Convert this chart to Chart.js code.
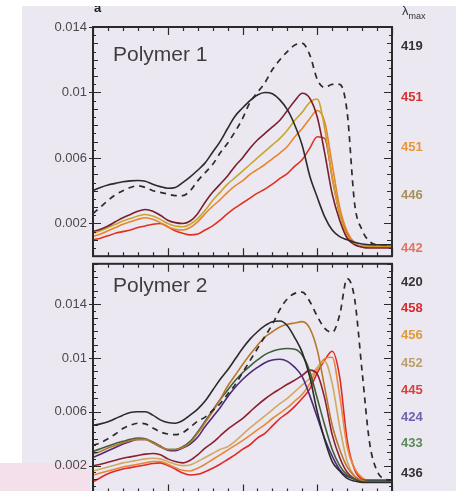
<!DOCTYPE html>
<html>
<head>
<meta charset="utf-8">
<script src="https://cdn.jsdelivr.net/npm/chart.js@4.4.1/dist/chart.umd.min.js"></script>
<style>
  html, body { margin: 0; padding: 0; }
  body { width: 456px; height: 491px; overflow: hidden; position: relative;
         background: #ebe8f1; font-family: "Liberation Sans", Arial, sans-serif; }
  canvas { position: absolute; left: 0; }
  #c1 { top: 0; }
  #c2 { top: 250px; }
  .t { position: absolute; white-space: nowrap; }
  .title { left: 113px; font-size: 21px; line-height: 21px; color: #3e3e3e; }
  .lam { left: 401px; font-size: 13px; line-height: 16px; font-weight: bold; }
  .edge { position: absolute; }
</style>
</head>
<body>
<div class="edge" style="left:0;top:463px;width:90px;height:28px;background:#f3e0ea"></div>
<canvas id="c1" width="456" height="270"></canvas>
<canvas id="c2" width="456" height="262"></canvas>
<div class="t title" style="top:43px">Polymer 1</div>
<div class="t title" style="top:274px">Polymer 2</div>
<div class="t" style="left:94px;top:0px;font-size:13px;font-weight:bold;color:#222">a</div>
<div class="t" style="left:402px;top:3px;font-size:13px;color:#333">&lambda;<sub style="font-size:9px">max</sub></div>
<div class="edge" style="left:0;top:0;width:456px;height:6px;background:#fff;z-index:5"></div>
<div class="edge" style="left:0;top:0;width:22px;height:463px;background:#fff;z-index:5"></div>
<script>
const wavelengths = [300, 305, 310, 315, 320, 325, 330, 335, 340, 345,
  350, 355, 360, 365, 370, 375, 380, 385, 390, 395,
  400, 405, 410, 415, 420, 425, 430, 435, 440, 445,
  450, 455, 460, 465, 470, 475, 480, 485, 490, 495, 500];

const yTicks = [0.002, 0.006, 0.01, 0.014];
const yTickLabels = ['0.002', '0.006', '0.01', '0.014'];

// Polymer 1 spectra (x 10^-3)
const p1Black = [4.0, 4.2, 4.35, 4.45, 4.55, 4.6, 4.62, 4.58, 4.4, 4.25,
  4.15, 4.2, 4.5, 4.85, 5.25, 5.7, 6.35, 7.0, 7.8, 8.55,
  9.05, 9.5, 9.85, 10.0, 9.92, 9.55, 8.95, 8.0, 6.75, 4.9,
  3.6, 2.4, 1.6, 1.2, 1.0, 0.85, 0.75, 0.7, 0.7, 0.7, 0.7];
const p1Dash = [2.6, 3.0, 3.4, 3.75, 4.0, 4.2, 4.3, 4.2, 4.0, 3.9,
  3.8, 3.7, 3.7, 4.0, 4.6, 5.1, 5.6, 6.3, 6.9, 7.6,
  8.4, 9.4, 10.0, 10.6, 11.4, 12.0, 12.5, 12.9, 13.0, 12.3,
  10.8, 10.3, 10.5, 10.5, 8.8, 3.2, 1.6, 0.9, 0.7, 0.7, 0.7];
const p1Maroon = [1.5, 1.65, 1.85, 2.1, 2.35, 2.55, 2.75, 2.85, 2.75, 2.5,
  2.2, 2.05, 2.0, 2.15, 2.6, 3.3, 3.9, 4.4, 4.9, 5.5,
  6.0, 6.6, 7.1, 7.5, 7.9, 8.3, 8.9, 9.5, 9.95, 9.65,
  8.5, 6.3, 3.8, 2.2, 1.1, 0.7, 0.55, 0.5, 0.5, 0.5, 0.5];
const p1Olive = [1.4, 1.55, 1.75, 1.95, 2.15, 2.3, 2.45, 2.55, 2.45, 2.25,
  2.0, 1.85, 1.8, 1.95, 2.3, 2.8, 3.4, 3.9, 4.4, 4.8,
  5.2, 5.6, 6.0, 6.4, 6.8, 7.2, 7.7, 8.3, 8.8, 9.4,
  9.6, 7.8, 4.8, 2.6, 1.2, 0.75, 0.6, 0.55, 0.55, 0.55, 0.55];
const p1Orange = [1.2, 1.35, 1.55, 1.75, 1.95, 2.1, 2.25, 2.35, 2.25, 2.05,
  1.8, 1.65, 1.6, 1.75, 2.1, 2.6, 3.05, 3.45, 3.9, 4.3,
  4.6, 5.0, 5.3, 5.6, 5.95, 6.3, 6.7, 7.3, 7.8, 8.4,
  8.9, 8.2, 5.6, 3.0, 1.5, 0.8, 0.6, 0.6, 0.6, 0.6, 0.6];
const p1Red = [1.0, 1.1, 1.25, 1.4, 1.5, 1.6, 1.75, 1.85, 1.95, 2.0,
  1.8, 1.55, 1.4, 1.3, 1.35, 1.6, 1.85, 2.2, 2.6, 2.95,
  3.25, 3.55, 3.85, 4.1, 4.4, 4.75, 5.05, 5.5, 5.9, 6.6,
  7.3, 7.2, 4.8, 2.6, 1.4, 0.8, 0.6, 0.6, 0.6, 0.6, 0.6];

// Polymer 2 spectra (x 10^-3)
const p2Black = [5.0, 5.1, 5.25, 5.5, 5.75, 5.95, 6.0, 6.0, 5.75, 5.4,
  5.2, 5.15, 5.35, 5.75, 6.2, 6.8, 7.6, 8.4, 9.1, 9.9,
  10.7, 11.4, 11.95, 12.4, 12.7, 12.75, 12.4, 11.5, 10.4, 8.6,
  6.0, 3.9, 2.3, 1.6, 1.05, 0.85, 0.75, 0.75, 0.75, 0.75, 0.75];
const p2Dash = [3.5, 3.7, 4.0, 4.35, 4.75, 5.0, 5.15, 5.1, 4.8, 4.5,
  4.35, 4.3, 4.45, 4.85, 5.3, 5.6, 6.1, 6.6, 7.3, 8.0,
  8.9, 9.8, 10.7, 11.6, 12.5, 13.6, 14.4, 14.8, 14.9, 14.2,
  13.1, 12.2, 11.9, 13.2, 15.9, 14.4, 9.0, 3.7, 1.6, 1.0, 0.9];
const p2Brown = [2.85, 3.05, 3.3, 3.5, 3.7, 3.85, 3.95, 3.95, 3.7, 3.4,
  3.2, 3.2, 3.35, 3.7, 4.4, 5.2, 6.0, 6.9, 7.9, 8.7,
  9.5, 10.25, 10.95, 11.55, 11.95, 12.3, 12.5, 12.6, 12.7, 12.2,
  10.6, 7.8, 5.0, 3.2, 1.9, 1.2, 0.9, 0.8, 0.8, 0.8, 0.8];
const p2Green = [3.05, 3.25, 3.45, 3.65, 3.8, 3.95, 4.05, 4.0, 3.75, 3.45,
  3.2, 3.2, 3.4, 3.8, 4.5, 5.3, 6.1, 6.9, 7.6, 8.3,
  8.9, 9.4, 9.85, 10.25, 10.5, 10.65, 10.7, 10.65, 10.2, 9.0,
  7.0, 5.0, 3.2, 2.0, 1.3, 1.0, 0.85, 0.85, 0.85, 0.85, 0.85];
const p2Purple = [2.6, 2.85, 3.1, 3.35, 3.6, 3.8, 3.95, 3.95, 3.7, 3.4,
  3.15, 3.1, 3.3, 3.6, 4.1, 4.9, 5.6, 6.3, 7.1, 7.8,
  8.4, 8.9, 9.3, 9.65, 9.85, 9.9, 9.75, 9.3, 8.6, 7.2,
  5.6, 4.0, 2.7, 1.7, 1.2, 1.0, 0.9, 0.9, 0.9, 0.9, 0.9];
const p2Maroon = [2.0, 2.1, 2.25, 2.4, 2.55, 2.65, 2.75, 2.85, 2.9, 2.8,
  2.5, 2.3, 2.2, 2.4, 2.8, 3.3, 3.7, 4.2, 4.7, 5.1,
  5.5, 6.0, 6.5, 6.95, 7.35, 7.7, 8.05, 8.35, 8.7, 9.1,
  8.8, 7.0, 4.3, 2.6, 1.5, 1.0, 0.8, 0.8, 0.8, 0.8, 0.8];
const p2Tan = [1.6, 1.75, 1.9, 2.05, 2.2, 2.3, 2.4, 2.5, 2.55, 2.5,
  2.3, 2.1, 2.0, 2.05, 2.3, 2.6, 2.9, 3.2, 3.4, 3.8,
  4.3, 4.8, 5.25, 5.7, 6.15, 6.6, 7.0, 7.5, 8.0, 8.5,
  9.3, 9.75, 8.1, 4.9, 2.3, 1.2, 0.9, 0.8, 0.8, 0.8, 0.8];
const p2Orange = [1.3, 1.45, 1.6, 1.75, 1.9, 2.0, 2.1, 2.2, 2.3, 2.3,
  2.1, 1.85, 1.65, 1.6, 1.8, 2.1, 2.45, 2.8, 3.15, 3.5,
  3.85, 4.25, 4.65, 5.05, 5.5, 5.9, 6.3, 6.8, 7.3, 8.1,
  9.2, 9.95, 10.05, 7.2, 3.4, 1.8, 1.1, 0.85, 0.85, 0.85, 0.85];
const p2Red = [0.8, 1.1, 1.4, 1.6, 1.75, 1.85, 1.95, 2.05, 2.15, 2.2,
  2.0, 1.75, 1.45, 1.3, 1.35, 1.55, 1.8, 2.1, 2.45, 2.8,
  3.2, 3.55, 4.05, 4.4, 4.95, 5.5, 5.9, 6.4, 7.0, 7.7,
  8.9, 9.85, 10.5, 8.6, 3.9, 1.7, 1.0, 0.9, 0.9, 0.9, 0.9];

// lambda max annotations on the right
const p1Lambda = ['419', '451', '451', '446', '442'];
const p1LambdaColors = ['#333333', '#d83030', '#e8963a', '#a8905a', '#e8705e'];
const p1LambdaY = [46, 97, 147, 195, 248];
const p2Lambda = ['420', '458', '456', '452', '445', '424', '433', '436'];
const p2LambdaColors = ['#333333', '#d82a2a', '#e09a3a', '#b8a070', '#d84040', '#7060b0', '#5a8a5a', '#333333'];
const p2LambdaY = [282, 308, 335, 363, 390, 417, 443, 473];

function addLabels(texts, colors, ys) {
  texts.forEach((txt, i) => {
    const d = document.createElement('div');
    d.className = 't lam';
    d.textContent = txt;
    d.style.color = colors[i];
    d.style.top = (ys[i] - 8) + 'px';
    document.body.appendChild(d);
  });
}
addLabels(p1Lambda, p1LambdaColors, p1LambdaY);
addLabels(p2Lambda, p2LambdaColors, p2LambdaY);

function line(values, color, dashed) {
  return {
    data: wavelengths.map((w, i) => ({ x: w, y: values[i] / 1000 })),
    borderColor: color,
    borderWidth: dashed ? 1.7 : 1.6,
    borderDash: dashed ? [6, 5] : [],
    pointRadius: 0,
    cubicInterpolationMode: 'monotone',
    fill: false
  };
}

// box with inward ticks on all four sides
const frame = {
  id: 'frame',
  afterDatasetsDraw(chart) {
    const { ctx, chartArea: a, scales: { x, y } } = chart;
    ctx.save();
    ctx.strokeStyle = '#2a2a2a';
    ctx.lineWidth = 1.2;
    ctx.beginPath();
    for (let w = 300; w <= 500; w += 10) {
      const px = Math.round(x.getPixelForValue(w)) + 0.5;
      const len = w % 50 === 0 ? 8 : 4;
      ctx.moveTo(px, a.top); ctx.lineTo(px, a.top + len);
      ctx.moveTo(px, a.bottom); ctx.lineTo(px, a.bottom - len);
    }
    const n = Math.round(y.max / 0.0005);
    for (let i = 0; i <= n; i++) {
      const v = i * 0.0005;
      const py = Math.round(y.getPixelForValue(v)) + 0.5;
      const major = yTicks.some(t => Math.abs(t - v) < 1e-9);
      const len = major ? 8 : (i % 2 === 0 ? 5 : 3);
      ctx.moveTo(a.left - (major ? 4 : 0), py); ctx.lineTo(a.left + len, py);
      ctx.moveTo(a.right, py); ctx.lineTo(a.right - len, py);
    }
    ctx.stroke();
    ctx.lineWidth = 2;
    ctx.strokeRect(a.left, a.top, a.right - a.left, a.bottom - a.top);
    ctx.restore();
  }
};

function panel(id, datasets, yMax, pad) {
  return new Chart(document.getElementById(id), {
    type: 'line',
    data: { datasets },
    options: {
      responsive: false,
      animation: false,
      events: [],
      layout: { padding: pad },
      plugins: { legend: { display: false }, tooltip: { enabled: false } },
      scales: {
        x: { type: 'linear', min: 300, max: 500, display: false },
        y: {
          min: 0,
          max: yMax,
          afterFit: s => { s.width = 93; },
          afterBuildTicks: s => { s.ticks = yTicks.map(v => ({ value: v })); },
          ticks: {
            callback: (v, i) => yTickLabels[i],
            color: '#4a4a4a',
            font: { family: 'Liberation Sans', size: 13 },
            padding: 6
          },
          grid: { display: false, drawTicks: false },
          border: { display: false }
        }
      }
    },
    plugins: [frame]
  });
}

panel('c1', [
  line(p1Black, '#2b2b2b', false),
  line(p1Dash, '#2b2b2b', true),
  line(p1Maroon, '#7a1f2e', false),
  line(p1Olive, '#c9a52a', false),
  line(p1Orange, '#e8852a', false),
  line(p1Red, '#e0321e', false)
], 0.014, { left: 0, right: 64, top: 27, bottom: 11 });

panel('c2', [
  line(p2Black, '#2b2b2b', false),
  line(p2Dash, '#2b2b2b', true),
  line(p2Brown, '#b8782a', false),
  line(p2Green, '#3f5e3a', false),
  line(p2Purple, '#4b2a7a', false),
  line(p2Maroon, '#8b2030', false),
  line(p2Tan, '#d0aa62', false),
  line(p2Orange, '#e8873a', false),
  line(p2Red, '#e02828', false)
], 0.017, { left: 0, right: 64, top: 9, bottom: 19.5 });
</script>
</body>
</html>
